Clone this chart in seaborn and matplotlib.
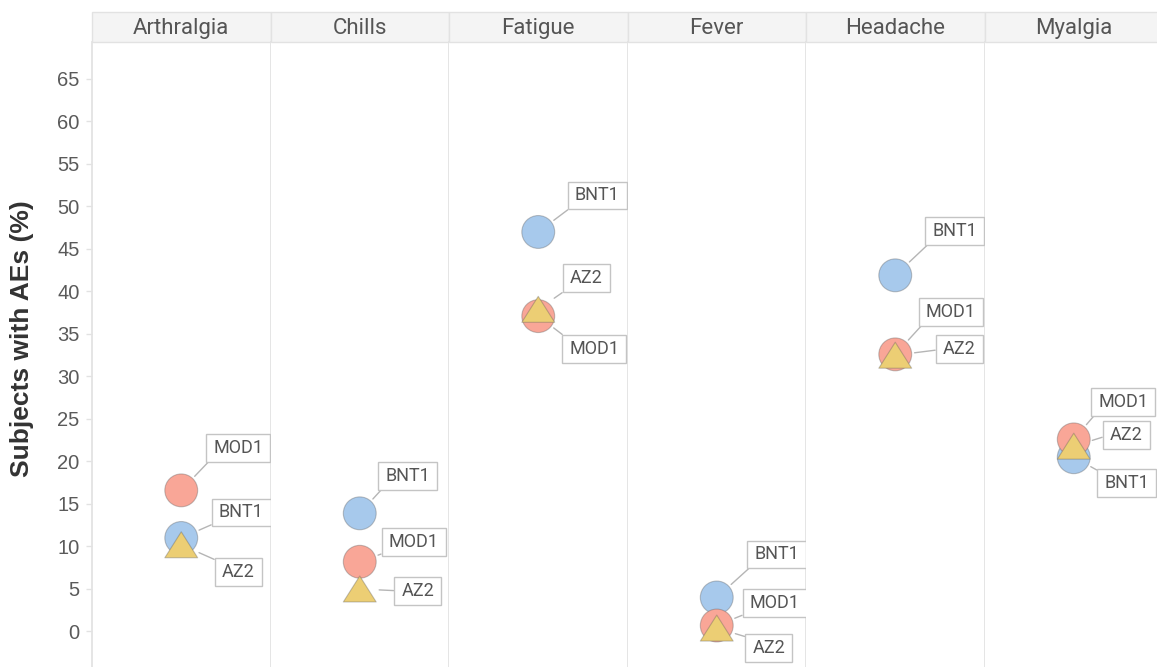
import matplotlib
matplotlib.use("Agg")
import matplotlib.pyplot as plt
from matplotlib.patches import Rectangle
from matplotlib.path import Path
import pandas as pd
import seaborn as sns

# Adverse events by vaccine
categories = ["Arthralgia", "Chills", "Fatigue", "Fever", "Headache", "Myalgia"]
vaccines = ["BNT1", "MOD1", "AZ2"]
bnt1 = [11.0, 13.9, 47.0, 4.0, 41.9, 20.5]
mod1 = [16.6, 8.2, 37.1, 0.7, 32.6, 22.6]
az2 = [10.2, 5.0, 37.9, 0.4, 32.5, 21.8]
y_ticks = list(range(0, 70, 5))

rows = []
for i, cat in enumerate(categories):
    for vac, vals in zip(vaccines, [bnt1, mod1, az2]):
        rows.append({"AE": cat, "Vaccine": vac, "Pct": vals[i]})
df = pd.DataFrame(rows)

# Label placement (pixel offsets from each mark, screen y downward)
label_offsets = {
    "Arthralgia": {"MOD1": (57, -42.5), "BNT1": (60, -25.5), "AZ2": (57, 27)},
    "Chills": {"BNT1": (48, -37), "MOD1": (54, -19.5), "AZ2": (58, 2)},
    "Fatigue": {"BNT1": (59, -36.5), "AZ2": (48, -31), "MOD1": (56, 32.7)},
    "Fever": {"BNT1": (60, -43), "MOD1": (58, -22.3), "AZ2": (52, 19.7)},
    "Headache": {"BNT1": (59.5, -44), "MOD1": (55.5, -42.4), "AZ2": (64, -6)},
    "Myalgia": {"MOD1": (49.5, -37.5), "AZ2": (52.5, -11.3), "BNT1": (53, 26)},
}


def label_box(x0, y0, width, height, mutation_size):
    """Rectangle with wider horizontal than vertical padding."""
    px, py = 0.4 * mutation_size, 0.27 * mutation_size
    x0, y0 = x0 - px, y0 - py
    x1, y1 = x0 + width + 2 * px, y0 + height + 2 * py
    return Path([(x0, y0), (x1, y0), (x1, y1), (x0, y1), (x0, y0)],
                closed=True)


sns.set_theme(style="white")
plt.rcParams["font.family"] = ["Roboto", "DejaVu Sans"]
arial_like = ["Liberation Sans", "DejaVu Sans"]

W, H = 1157, 667
fig = plt.figure(figsize=(W / 100, H / 100), dpi=100)

palette = {"BNT1": "#a7c9ec", "MOD1": "#f9a697", "AZ2": "#ecce74"}
tri = Path([(0, 0.79), (-1, -0.79), (1, -0.79), (0, 0.79)],
           [Path.MOVETO, Path.LINETO, Path.LINETO, Path.CLOSEPOLY])
markers = {"BNT1": "o", "MOD1": "o", "AZ2": tri}

left_px, panel_px, top_px = 92, 178.5, 42
strip_px = 30
grid_col = "#e2e2e2"
ylim = (-4.18, 69.35)

for i, cat in enumerate(categories):
    ax = fig.add_axes([(left_px + i * panel_px) / W, 0,
                       panel_px / W, (H - top_px) / H])
    sub = df[df["AE"] == cat]
    sns.scatterplot(data=sub, x=[0] * len(sub), y="Pct", hue="Vaccine",
                    style="Vaccine", palette=palette, markers=markers,
                    hue_order=vaccines, style_order=vaccines,
                    s=560, edgecolor=(0.35, 0.35, 0.35, 0.35), linewidth=0.8,
                    legend=False, ax=ax, zorder=3)
    ax.set_xlim(-1, 1)
    ax.set_ylim(*ylim)
    ax.set_xticks([])
    ax.set_xlabel("")
    for s in ["top", "bottom"]:
        ax.spines[s].set_visible(False)
    ax.spines["right"].set_color(grid_col)
    ax.spines["left"].set_color(grid_col)
    if i == 0:
        ax.set_yticks(y_ticks)
        ax.tick_params(axis="y", length=4, width=1, color=grid_col,
                       labelsize=14.5, labelcolor="#5a5a5a", pad=5, left=True)
        for t in ax.get_yticklabels():
            t.set_family(arial_like)
        ax.set_ylabel("Subjects with AEs (%)", fontsize=19, fontweight="bold",
                      color="#333333", family=arial_like)
        ax.yaxis.set_label_coords((34 - left_px) / panel_px,
                                  (H - 339) / (H - top_px))
    else:
        ax.set_yticks([])
        ax.set_ylabel("")
        ax.spines["left"].set_visible(False)

    # Column header strip
    plot_h = H - top_px
    strip_h = strip_px / plot_h
    ax.add_patch(Rectangle((0, 1), 1, strip_h, transform=ax.transAxes,
                           facecolor="#f4f4f4", edgecolor=grid_col, lw=1,
                           clip_on=False, zorder=1))
    ax.text(0.5, 1 + strip_h / 2 - 1.5 / plot_h, cat, transform=ax.transAxes,
            ha="center", va="center", fontsize=16, color="#555555")

    # Boxed value labels with leader lines
    for _, r in sub.iterrows():
        dx, dy = label_offsets[cat][r["Vaccine"]]
        if dy < -15:
            rel = (0, 0)
        elif dy > 15:
            rel = (0, 1)
        else:
            rel = (0, 0.5)
        ax.annotate(r["Vaccine"], xy=(0, r["Pct"]), xytext=(dx, -dy),
                    textcoords="offset pixels", ha="center", va="center",
                    fontsize=13, color="#555555", annotation_clip=False,
                    bbox=dict(boxstyle=label_box, fc="white",
                              ec="#c4c4c4", lw=1),
                    arrowprops=dict(arrowstyle="-", color="#b5b5b5", lw=1,
                                    shrinkA=0, shrinkB=14, relpos=rel),
                    zorder=4)

fig.savefig("out.png", dpi=100)
